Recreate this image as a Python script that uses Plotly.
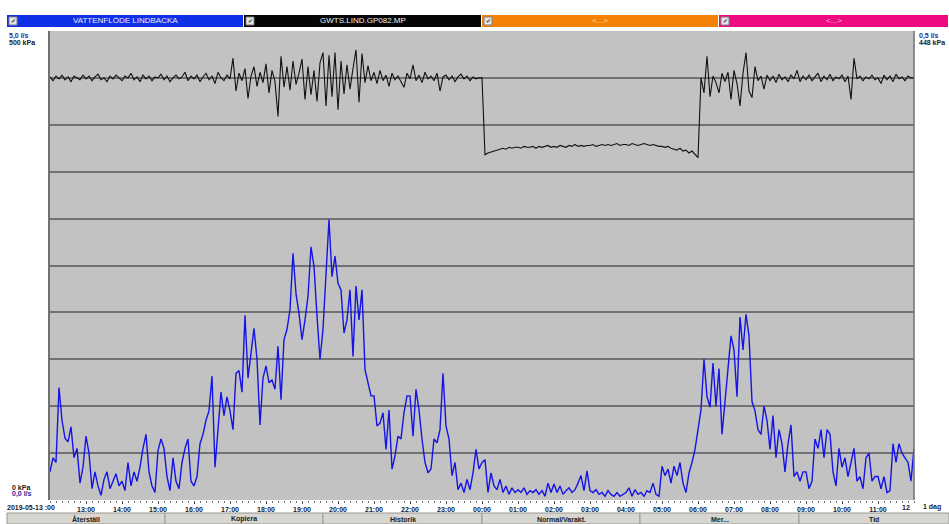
import pandas as pd
import plotly.graph_objects as go

# Five-minute samples, 2019-05-13 12:00 -> 2019-05-14 12:00
START = "2019-05-13 12:00"
END = "2019-05-14 12:00"

# Flow, VATTENFLÖDE LINDBACKA [l/s], one row per hour (12 samples each)
flow_ls = [
    0.30, 0.45, 0.40, 1.20, 0.85, 0.66, 0.62, 0.78, 0.45, 0.55, 0.18, 0.35,
    0.68, 0.50, 0.12, 0.30, 0.15, 0.05, 0.22, 0.30, 0.12, 0.20, 0.28, 0.15,
    0.20, 0.10, 0.40, 0.15, 0.30, 0.20, 0.35, 0.55, 0.70, 0.30, 0.15, 0.08,
    0.53, 0.65, 0.55, 0.25, 0.10, 0.45, 0.20, 0.12, 0.40, 0.55, 0.65, 0.20,
    0.15, 0.25, 0.60, 0.70, 0.85, 0.95, 1.32, 0.35, 0.75, 1.15, 0.90, 1.10,
    0.95, 0.75, 1.35, 1.38, 1.15, 1.97, 1.30, 1.55, 1.83, 1.50, 0.80, 1.30,
    1.43, 1.25, 1.28, 1.18, 1.64, 1.07, 1.71, 1.82, 2.03, 2.63, 2.20, 1.99,
    1.71, 1.92, 2.17, 2.70, 2.49, 1.96, 1.50, 1.82, 2.38, 2.99, 2.38, 2.60,
    2.31, 2.24, 1.78, 1.92, 2.24, 1.53, 2.28, 1.92, 2.24, 1.39, 1.25, 1.11,
    1.11, 0.79, 0.82, 0.93, 0.54, 0.96, 0.33, 0.47, 0.68, 0.65, 0.93, 1.11,
    1.11, 0.68, 1.18, 0.96, 0.65, 0.40, 0.29, 0.33, 0.65, 0.61, 0.75, 1.35,
    0.79, 0.65, 0.26, 0.40, 0.11, 0.18, 0.08, 0.22, 0.11, 0.29, 0.54, 0.33,
    0.40, 0.43, 0.08, 0.29, 0.15, 0.11, 0.22, 0.08, 0.15, 0.06, 0.13, 0.08,
    0.11, 0.08, 0.13, 0.06, 0.10, 0.08, 0.11, 0.06, 0.10, 0.04, 0.18, 0.08,
    0.17, 0.08, 0.15, 0.06, 0.10, 0.13, 0.08, 0.11, 0.18, 0.26, 0.10, 0.31,
    0.10, 0.08, 0.11, 0.06, 0.08, 0.04, 0.10, 0.06, 0.04, 0.08, 0.04, 0.06,
    0.08, 0.13, 0.04, 0.11, 0.06, 0.08, 0.04, 0.10, 0.08, 0.18, 0.06, 0.04,
    0.36, 0.26, 0.33, 0.18, 0.36, 0.26, 0.40, 0.18, 0.08, 0.29, 0.40, 0.54,
    0.75, 0.96, 1.50, 1.10, 0.99, 1.46, 1.00, 1.40, 0.70, 1.10, 1.40, 1.75,
    1.60, 1.10, 1.95, 1.60, 1.98, 1.75, 1.05, 0.95, 0.75, 0.70, 1.00, 0.85,
    0.54, 0.90, 0.45, 0.75, 0.60, 0.30, 0.60, 0.80, 0.25, 0.30, 0.20, 0.30,
    0.30, 0.12, 0.20, 0.65, 0.55, 0.75, 0.45, 0.75, 0.70, 0.30, 0.15, 0.55,
    0.35, 0.45, 0.25, 0.40, 0.55, 0.20, 0.25, 0.12, 0.45, 0.50, 0.20, 0.25,
    0.25, 0.12, 0.25, 0.08, 0.10, 0.60, 0.40, 0.60, 0.50, 0.45, 0.40, 0.20,
    0.55,
]

# Pressure, GWTS.LIND.GP082.MP [kPa], one row per hour (12 samples each)
pressure_kpa = [
    451, 447, 452, 449, 453, 448, 451, 446, 452, 450, 448, 453,
    449, 452, 447, 451, 454, 448, 450, 446, 452, 449, 453, 450,
    447, 452, 450, 455, 448, 451, 446, 453, 449, 452, 447, 451,
    450, 454, 448, 452, 446, 450, 453, 449, 451, 456, 447, 452,
    449, 453, 446, 451, 455, 448, 452, 444, 456, 450, 447, 453,
    449, 471, 436, 455, 447, 460, 428, 452, 462, 441, 456, 445,
    465, 434, 458, 446, 409, 473, 440, 462, 437, 468, 443, 455,
    470, 427, 462, 432, 458, 425, 466, 477, 420, 474, 430, 477,
    416, 468, 433, 464, 438, 460, 480, 424, 476, 445, 463, 447,
    456, 444, 458, 447, 453, 441, 455, 448, 452, 446, 440, 455,
    449, 464, 447, 453, 445, 456, 449, 452, 447, 455, 436, 451,
    453, 448, 452, 446, 451, 454, 449, 452, 447, 451, 449, 450,
    450, 368, 370, 371, 372, 373, 374, 375, 374, 376, 375, 376,
    376, 375, 377, 376, 376, 377, 375, 377, 376, 377, 378, 376,
    377, 376, 378, 377, 376, 378, 377, 379, 377, 378, 377, 378,
    378, 379, 377, 378, 379, 378, 379, 378, 379, 380, 378, 379,
    379, 378, 380, 379, 378, 379, 380, 379, 378, 379, 378, 377,
    377, 376, 377, 375, 374, 373, 375, 372, 373, 370, 372, 368,
    365, 450, 434, 473, 430, 452, 445, 434, 455, 446, 456, 427,
    458, 444, 420, 455, 477, 436, 429, 462, 447, 452, 438, 453,
    447, 452, 445, 454, 448, 451, 446, 453, 449, 458, 446, 452,
    448, 453, 447, 451, 455, 446, 452, 448, 454, 447, 451, 449,
    453, 446, 452, 427, 471, 449, 452, 447, 451, 449, 453, 448,
    450, 444, 453, 448, 452, 446, 454, 449, 451, 447, 452, 450,
    450,
]

# Hourly tick labels along the time axis
hour_labels = ["13:00", "14:00", "15:00", "16:00", "17:00", "18:00", "19:00",
               "20:00", "21:00", "22:00", "23:00", "00:00", "01:00", "02:00",
               "03:00", "04:00", "05:00", "06:00", "07:00", "08:00", "09:00",
               "10:00", "11:00"]

# Header channel tabs and bottom buttons
channels = ["VATTENFLÖDE LINDBACKA", "GWTS.LIND.GP082.MP", "<...>", "<...>"]
channel_colors = ["#1030e8", "#050505", "#f58208", "#ee0a80"]
channel_text_colors = ["#e8ecff", "#f0f0f0", "#ffd9a8", "#ffc0e0"]
buttons = ["Återställ", "Kopiera", "Historik", "Normal/Varakt.", "Mer...", "Tid"]

times = pd.date_range(START, periods=len(flow_ls), freq="5min")
hour_ticks = pd.date_range("2019-05-13 13:00", periods=len(hour_labels), freq="1h")

# Pixel geometry of the page
W, H = 949, 524
PL, PR, PT, PB = 50, 914, 31, 500
pw, ph = PR - PL, PB - PT


def px(x):
    return (x - PL) / pw


def py(y):
    return (PB - y) / ph


FONT = "Liberation Sans"
fig = go.Figure()

fig.add_trace(go.Scatter(x=times, y=flow_ls, mode="lines", yaxis="y",
                         line=dict(color="#1414e6", width=1.4), hoverinfo="skip"))
fig.add_trace(go.Scatter(x=times, y=pressure_kpa, mode="lines", yaxis="y2",
                         line=dict(color="#111111", width=1.1), hoverinfo="skip"))

shapes = []
annotations = []


def text_at(x, y, text, color, size=7, anchor="center", bold=True, family=FONT):
    annotations.append(dict(x=px(x), y=py(y), xref="paper", yref="paper",
                            text=text, showarrow=False, xanchor=anchor, yanchor="middle",
                            font=dict(family=family, size=size, color=color,
                                      weight="bold" if bold else "normal")))


# Channel tabs across the top
tab_edges = [7, 244, 482, 719, 949]
for i, name in enumerate(channels):
    x0, x1 = tab_edges[i], tab_edges[i + 1] - 1
    shapes.append(dict(type="rect", xref="paper", yref="paper", layer="above",
                       x0=px(x0), x1=px(x1), y0=py(27), y1=py(15),
                       fillcolor=channel_colors[i], line=dict(width=0)))
    shapes.append(dict(type="rect", xref="paper", yref="paper", layer="above",
                       x0=px(x0 + 2), x1=px(x0 + 10), y0=py(25), y1=py(17),
                       fillcolor="#e4e4e4", line=dict(color="#808080", width=1)))
    text_at(x0 + 6, 21, "✔", "#404040", size=6, bold=False, family="DejaVu Sans")
    text_at((x0 + x1) / 2, 21, name, channel_text_colors[i], size=8, bold=False)

# Bottom button row
btn_edges = [7, 165, 323, 482, 640, 799, 949]
for i, label in enumerate(buttons):
    x0, x1 = btn_edges[i], btn_edges[i + 1]
    shapes.append(dict(type="rect", xref="paper", yref="paper", layer="above",
                       x0=px(x0), x1=px(x1), y0=py(524), y1=py(513),
                       fillcolor="#d8d6d0", line=dict(color="#9a9892", width=1)))
    text_at((x0 + x1) / 2, 519, label, "#202020")

# Right-hand frame of the plot
shapes.append(dict(type="line", xref="paper", yref="paper", layer="above",
                   x0=1, x1=1, y0=0, y1=1, line=dict(color="#707070", width=1.5)))

# Scale labels at the corners and ends of the time axis
text_at(7, 36, "5,0 l/s", "#2828a0", anchor="left")
text_at(7, 43, "500 kPa", "#202020", anchor="left")
text_at(917, 36, "0,5 l/s", "#2828a0", anchor="left")
text_at(917, 43, "448 kPa", "#202020", anchor="left")
text_at(10, 487, "0 kPa", "#202020", anchor="left")
text_at(10, 494, "0,0 l/s", "#2828a0", anchor="left")
text_at(5, 507, "2019-05-13 :00", "#202030", anchor="left")
text_at(912, 507, "12", "#202030", anchor="right")
text_at(921, 507, "1 dag", "#202030", anchor="left")

fig.update_layout(
    width=W, height=H,
    margin=dict(l=PL, r=W - PR, t=PT, b=H - PB),
    paper_bgcolor="white", plot_bgcolor="#c2c2c2",
    showlegend=False,
    shapes=shapes, annotations=annotations,
    xaxis=dict(type="date", range=[START, END], showgrid=False, zeroline=False,
               tickvals=hour_ticks, ticktext=hour_labels,
               ticks="outside", ticklen=3, tickcolor="#505050",
               ticklabelstandoff=0,
               tickfont=dict(family=FONT, size=7, color="#202030", weight="bold"),
               minor=dict(dtick=600000, ticks="outside", ticklen=2, tickcolor="#707070"),
               showline=False),
    yaxis=dict(range=[0, 5], dtick=0.5, showticklabels=False, ticks="",
               showgrid=True, gridcolor="#727272", gridwidth=1.5, zeroline=False,
               showline=True, linecolor="#707070", linewidth=1.5),
    yaxis2=dict(range=[0, 500], overlaying="y", side="right", showgrid=False,
                showticklabels=False, ticks="", zeroline=False),
)

fig.write_html("out.html")
